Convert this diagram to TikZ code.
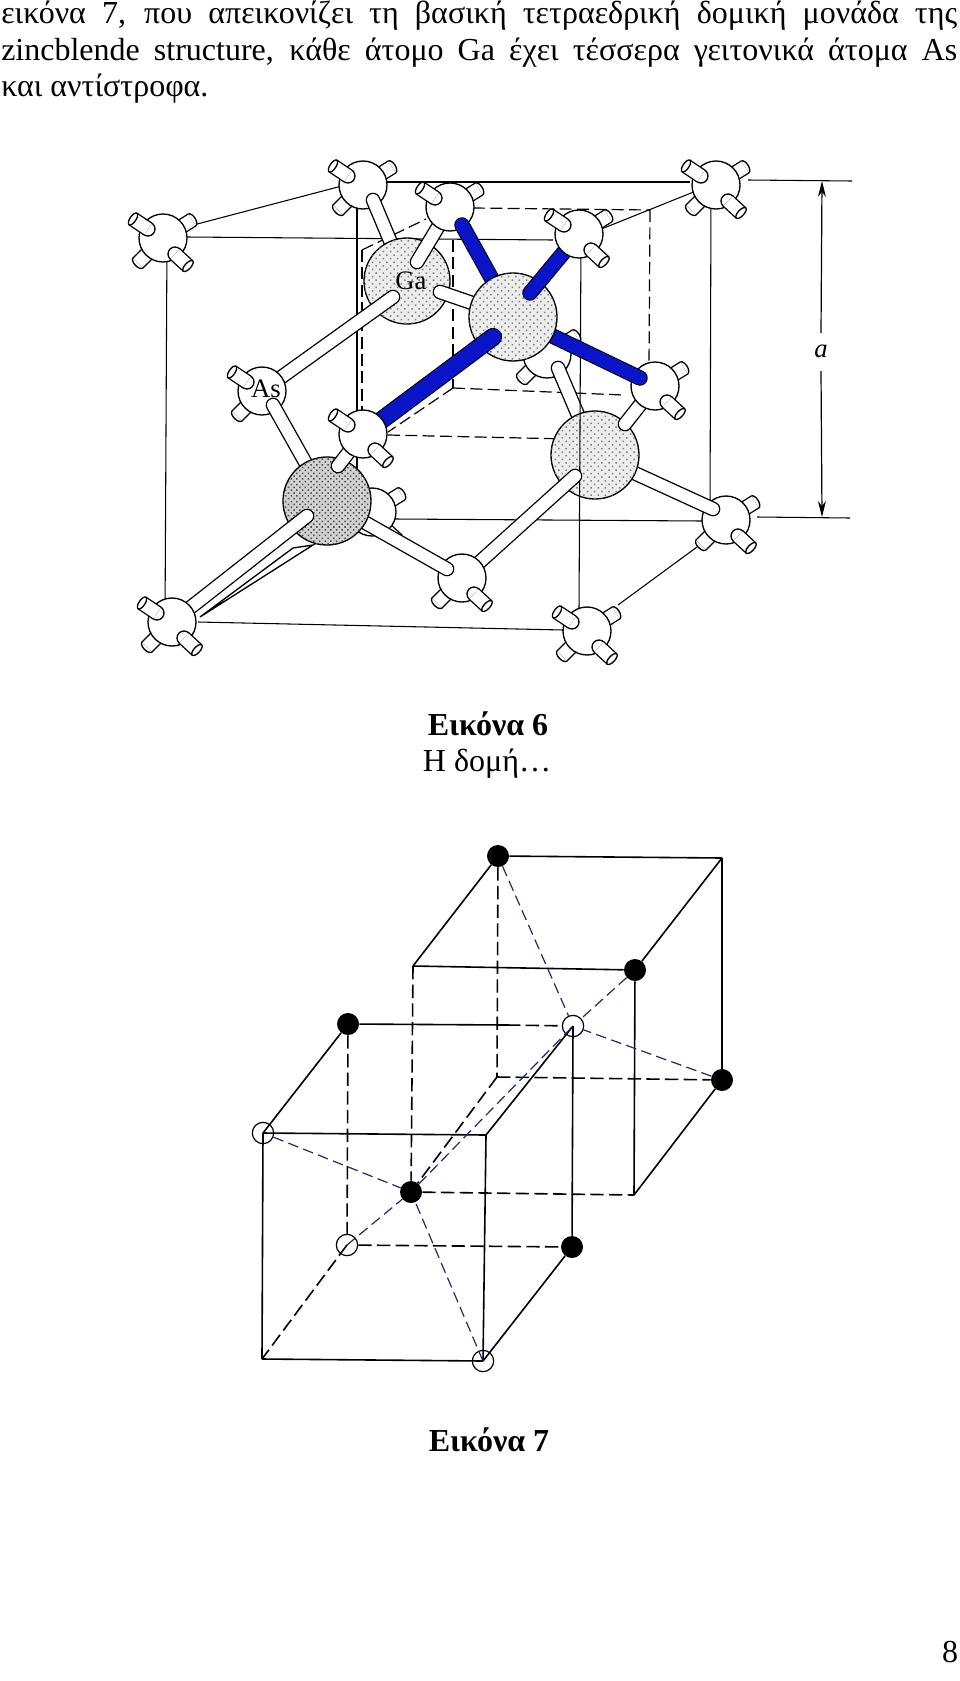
\documentclass[tikz,border=0pt]{standalone}
\usepackage{fontspec}
\setmainfont{Liberation Serif}
\usetikzlibrary{patterns.meta,arrows.meta}

\definecolor{bondblue}{RGB}{10,20,200}
\definecolor{dashblue}{RGB}{30,40,120}

\tikzset{
	thinline/.style={line width=.8pt},
	gridline/.style={line width=.9pt, dash pattern=on 9pt off 4pt},
	sphere/.style={draw, line width=1pt, fill=white},
	galight/.style={draw, line width=1pt, fill=gray!14, postaction={pattern={Dots[radius=.8pt, distance=3.8pt, angle=45]}, pattern color=gray}},
	gadark/.style={draw, line width=1pt, fill=gray!35, postaction={pattern={Dots[radius=.8pt, distance=3pt, angle=45]}, pattern color=black!70}},
	stub/.style={draw, line width=1pt, double=white, double distance=9.5pt, line cap=butt},
	stubend/.style={draw, line width=1pt, fill=white},
	bond/.style={draw, line width=1pt, double=white, double distance=9pt, line cap=round},
	bluebond/.style={draw, line width=.8pt, double=bondblue, double distance=10pt, line cap=round},
	bluewide/.style={bluebond, double distance=12pt},
	fullatom/.style={circle, fill=black, inner sep=0pt, minimum size=16.5pt},
	openatom/.style={circle, draw, line width=.9pt, inner sep=0pt, minimum size=16pt},
	cubeline/.style={line width=1.2pt},
	cubedash/.style={line width=1.2pt, dash pattern=on 10pt off 4pt},
	tetradash/.style={line width=.9pt, dashblue, dash pattern=on 8pt off 4pt},
	bodytext/.style={font=\fontsize{24}{29}\selectfont, inner sep=0pt},
	atomtext/.style={font=\fontsize{20}{22}\selectfont, inner sep=0pt}
}

% stubs of one white atom
\newcommand{\stubUL}[1]{
	\draw[stubend] (#1) ++(-15,-9) circle (7);
	\draw[stub] (#1) ++(-15,-9) -- ++(-15,-10);
	\draw[stubend] (#1) ++(-30,-19) circle[x radius=3, y radius=7, rotate=146];
}
\newcommand{\stubLR}[1]{
	\draw[stubend] (#1) ++(12,16) circle (7);
	\draw[stub] (#1) ++(12,16) -- ++(13,12);
	\draw[stubend] (#1) ++(25,28) circle[x radius=3, y radius=7, rotate=-43];
}
\newcommand{\stubUR}[1]{
	\draw[stubend] (#1) ++(29,-18) circle[x radius=3.5, y radius=7, rotate=32];
	\draw[stub] (#1) -- ++(29,-18);
}
\newcommand{\stubLL}[1]{
	\draw[stubend] (#1) ++(-25,25) circle[x radius=3.5, y radius=7, rotate=45];
	\draw[stub] (#1) -- ++(-25,25);
}

\begin{document}
\begin{tikzpicture}[x=.75pt, y=-.75pt]
	\useasboundingbox (0,0) rectangle (960,1681);

	% Text above the first figure
	\node[bodytext, anchor=base west] (lineone) at (1,23) {\makebox[717pt][s]{εικόνα 7, που απεικονίζει τη βασική τετραεδρική δομική μονάδα της}};
	\node[bodytext, anchor=base west] (linetwo) at (1,60) {\makebox[717pt][s]{zincblende structure, κάθε άτομο Ga έχει τέσσερα γειτονικά άτομα As}};
	\node[bodytext, anchor=base west] (linethree) at (1,96) {και αντίστροφα.};

	% Centres of the white atoms
	\coordinate (AtomA) at (163,238);
	\coordinate (AtomB) at (363,185);
	\coordinate (AtomC) at (450,207);
	\coordinate (AtomAs) at (262,391);
	\coordinate (AtomD) at (363,434);
	\coordinate (AtomE) at (172,622);
	\coordinate (AtomF) at (462,578);
	\coordinate (AtomG) at (372,512);
	\coordinate (AtomH) at (579,234);
	\coordinate (AtomI) at (716,185);
	\coordinate (AtomJ) at (655,386);
	\coordinate (AtomK) at (547,354);
	\coordinate (AtomL) at (726,520);
	\coordinate (AtomM) at (587,631);

	% Centres of the grey atoms
	\coordinate (GaA) at (407,281);
	\coordinate (GaB) at (513,317);
	\coordinate (GaC) at (327,501);
	\coordinate (GaD) at (595,455);

	% Where the bonds end in front of an atom
	\coordinate (capAsGa) at (393,297);
	\coordinate (capCGa) at (417,262);
	\coordinate (capB) at (373,200);
	\coordinate (capGaB) at (440,292);
	\coordinate (capCBlue) at (462,225);
	\coordinate (capHBlue) at (530,293);
	\coordinate (capDBlue) at (493,337);
	\coordinate (capJBlue) at (640,378);
	\coordinate (capAs) at (273,405);
	\coordinate (capDGa) at (338,466);
	\coordinate (capEGa) at (307,516);
	\coordinate (capF) at (447,569);
	\coordinate (capFGa) at (575,476);
	\coordinate (capJGa) at (625,424);
	\coordinate (capK) at (558,368);
	\coordinate (capL) at (713,509);

	% Outer cube
	\draw[thinline] (163,233) -- (357,182);
	\draw[thinline] (187,237) -- (553,240);
	\draw[thinline] (167,238) -- (165,622);
	\draw[thinline] (198,622) -- (563,630);
	\draw[thinline] (357,182) -- (357,519);
	\draw[thinline] (387,182) -- (690,182);
	\draw[thinline] (395,519) -- (702,521);
	\draw[thinline] (711,185) -- (579,238);
	\draw[thinline] (711,190) -- (710,521);
	\draw[thinline] (697,547) -- (618,605);

	% Inner cube
	\coordinate (innerA) at (650,210);
	\coordinate (innerB) at (453,388);
	\coordinate (innerC) at (362,250);
	\draw[gridline] (473,208) -- (innerA);
	\draw[gridline] (innerA) -- (649,365);
	\draw[gridline] (453,240) -- (innerB);
	\draw[gridline] (innerB) -- (623,395);
	\draw[gridline] (innerB) -- (388,432);
	\draw[gridline] (388,435) -- (568,439);
	\draw[gridline] (innerC) -- (362,410);
	\draw[gridline] (innerC) -- (426,219);

	% Atoms at the back
	\stubUR{AtomG} \stubLR{AtomG}
	\draw[sphere] (AtomG) circle (24);
	\stubUR{AtomK} \stubLL{AtomK}
	\draw[sphere] (AtomK) circle (24);
	\draw[bond] (capK) -- (GaD);
	\stubUR{AtomL} \stubLL{AtomL}
	\draw[sphere] (AtomL) circle (24);
	\stubLR{AtomL}
	\draw[bond] (capL) -- (GaD);

	% Right grey atom
	\draw[galight] (GaD) circle (44);
	\draw[thinline] (581,240) -- (579,610);
	\draw[bond] (AtomJ) -- (capJGa);
	\stubUR{AtomJ}
	\draw[sphere] (AtomJ) circle (24);
	\stubLR{AtomJ}
	\draw[bond] (AtomF) -- (capFGa);
	\stubLL{AtomF}
	\draw[sphere] (AtomF) circle (24);
	\stubLR{AtomF}
	\draw[bond] (capF) -- (GaC);

	% Corner atoms
	\stubUR{AtomA} \stubLL{AtomA}
	\draw[sphere] (AtomA) circle (24);
	\stubUL{AtomA} \stubLR{AtomA}
	\stubUR{AtomI} \stubLL{AtomI}
	\draw[sphere] (AtomI) circle (24);
	\stubUL{AtomI} \stubLR{AtomI}
	\stubUR{AtomM} \stubLL{AtomM}
	\draw[sphere] (AtomM) circle (24);
	\stubUL{AtomM} \stubLR{AtomM}
	\stubUR{AtomB} \stubLL{AtomB}
	\draw[sphere] (AtomB) circle (24);
	\stubUL{AtomB}
	\draw[bond] (capB) -- (GaA);

	% Upper grey atoms with the blue bonds
	\draw[galight] (GaA) circle (43);
	\draw[bond] (capGaB) -- (GaB);
	\draw[bond] (AtomC) -- (capCGa);
	\stubUR{AtomC}
	\draw[sphere] (AtomC) circle (24);
	\stubUL{AtomC}
	\draw[bluebond] (capCBlue) -- (GaB);
	\draw[bluebond] (GaB) -- (capJBlue);
	\draw[galight] (GaB) circle (44);
	\draw[bond] (AtomAs) -- (capAsGa);
	\stubLL{AtomAs}
	\draw[sphere] (AtomAs) circle (24);
	\stubUL{AtomAs}
	\draw[bond] (capAs) -- (GaC);
	\draw[bluebond] (AtomH) -- (capHBlue);
	\stubUR{AtomH}
	\draw[sphere] (AtomH) circle (24);
	\stubUL{AtomH} \stubLR{AtomH}

	% Lower left grey atom
	\coordinate (taperA) at (200,617);
	\coordinate (taperB) at (293,548);
	\coordinate (taperC) at (313,545);
	\draw[sphere] (taperA) -- (taperB) -- (taperC) -- cycle;
	\draw[gadark] (GaC) circle (44);
	\draw[bond] (AtomE) -- (capEGa);
	\stubLL{AtomE}
	\draw[sphere] (AtomE) circle (24);
	\stubUL{AtomE} \stubLR{AtomE}
	\draw[bond] (AtomD) -- (capDGa);
	\draw[bluewide] (AtomD) -- (capDBlue);
	\draw[sphere] (AtomD) circle (24);
	\stubUL{AtomD} \stubLR{AtomD}

	% Atom labels
	\node[atomtext] (labelGa) at (411,281) {Ga};
	\node[atomtext] (labelAs) at (266,389) {As};

	% Dimension of the cell
	\coordinate (dimTop) at (822,181);
	\coordinate (dimBottom) at (822,517);
	\draw[thinline] (748,180) -- (852,181);
	\draw[thinline] (757,517) -- (850,518);
	\node[atomtext, font=\fontsize{20}{22}\selectfont\itshape] (labelA) at (821,351) {a};
	\draw[-{Stealth[length=12pt, width=6pt]}, line width=.9pt] (labelA) ++(0,-18) -- (dimTop);
	\draw[-{Stealth[length=12pt, width=6pt]}, line width=.9pt] (labelA) ++(0,20) -- (dimBottom);

	% Captions
	\node[bodytext, font=\fontsize{24}{29}\selectfont\bfseries] (captionA) at (488,724) {Εικόνα 6};
	\node[bodytext] (captionB) at (487,764) {Η δομή…};
	\node[bodytext, font=\fontsize{24}{29}\selectfont\bfseries] (captionC) at (489,1440) {Εικόνα 7};
	\node[bodytext] (pagenum) at (950,1652) {8};

	% Second figure, upper cube
	\node[fullatom] (uA) at (498,856) {};
	\coordinate (uB) at (722,858);
	\coordinate (uC) at (413,966);
	\node[fullatom] (uD) at (635,970) {};
	\node[fullatom] (uE) at (722,1080) {};
	\coordinate (uF) at (497,1077);
	\node[fullatom] (uG) at (411,1192) {};
	\coordinate (uH) at (634,1195);

	% Second figure, lower cube
	\node[fullatom] (lA) at (348,1024) {};
	\node[openatom] (lB) at (573,1026) {};
	\node[openatom] (lC) at (263,1133) {};
	\coordinate (lD) at (486,1135);
	\node[openatom] (lE) at (347,1245) {};
	\node[fullatom] (lF) at (572,1247) {};
	\coordinate (lG) at (262,1359);
	\node[openatom] (lH) at (483,1361) {};
	\coordinate (lAB) at (507,1025);

	\draw[cubeline] (uA) -- (uB);
	\draw[cubeline] (uA) -- (uC);
	\draw[cubeline] (uB) -- (uD);
	\draw[cubeline] (uC) -- (uD);
	\draw[cubeline] (uB) -- (uE);
	\draw[cubeline] (uD) -- (uH);
	\draw[cubeline] (uE) -- (uH);
	\draw[cubedash] (uC) -- (uG);
	\draw[cubedash] (uA) -- (uF);
	\draw[cubedash] (uF) -- (uE);
	\draw[cubedash] (uF) -- (uG);
	\draw[cubedash] (uG) -- (uH);

	\draw[cubeline] (lA) -- (lAB);
	\draw[cubedash] (lAB) -- (lB);
	\draw[cubeline] (lA) -- (lC.center);
	\draw[cubeline] (lB.center) -- (lD);
	\draw[cubeline] (lC.center) -- (lD);
	\draw[cubeline] (lC.center) -- (lG);
	\draw[cubeline] (lD) -- (lH.center);
	\draw[cubeline] (lG) -- (lH.center);
	\draw[cubeline] (lH.center) -- (lF);
	\draw[cubeline] (lF) -- (lB.center);
	\draw[cubedash] (lA) -- (lE);
	\draw[cubedash] (lE) -- (lF);
	\draw[cubedash] (lE.center) -- (lG);

	% Tetrahedra
	\draw[tetradash] (uA) -- (lB);
	\draw[tetradash] (uD) -- (lB);
	\draw[tetradash] (uE) -- (lB);
	\draw[tetradash] (uG) -- (lB.center);
	\draw[tetradash] (lC) -- (uG);
	\draw[tetradash] (lE.center) -- (uG);
	\draw[tetradash] (lH.center) -- (uG);
\end{tikzpicture}
\end{document}
